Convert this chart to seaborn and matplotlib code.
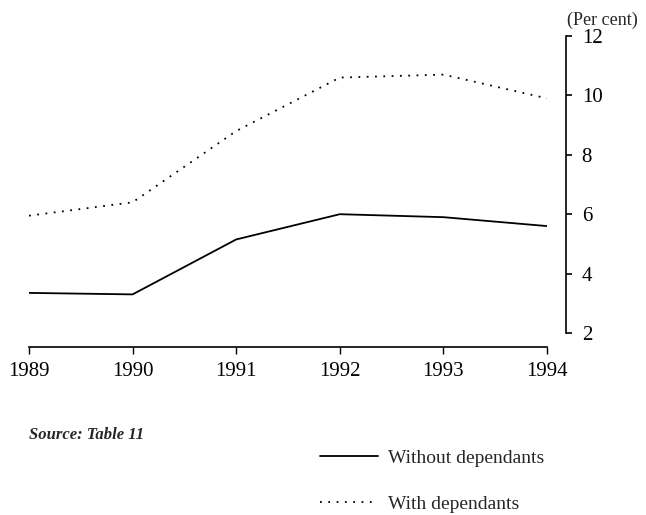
import matplotlib
matplotlib.use("Agg")
import matplotlib.pyplot as plt
import seaborn as sns
import pandas as pd

# data (per cent)
years = [1989, 1990, 1991, 1992, 1993, 1994]
without_dep = [3.35, 3.3, 5.15, 6.0, 5.9, 5.6]
with_dep = [5.95, 6.4, 8.8, 10.6, 10.7, 9.9]
series_names = ["Without dependants", "With dependants"]
y_ticks = [2, 4, 6, 8, 10, 12]

df = pd.DataFrame({
    "year": years * 2,
    "value": without_dep + with_dep,
    "series": [series_names[0]] * len(years) + [series_names[1]] * len(years),
})

sns.set_style("ticks")
plt.rcParams["font.family"] = ["Liberation Serif", "DejaVu Serif"]

fig = plt.figure(figsize=(6.46, 5.15), dpi=100)
ax = fig.add_axes([29 / 646, 1 - 333 / 515, (547 - 29) / 646, (333 - 36) / 515])

sns.lineplot(data=df, x="year", y="value", style="series",
             color="black", linewidth=1.3,
             dashes={series_names[0]: "", series_names[1]: (1, 3.6)},
             ax=ax, legend=True)

ax.set_xlim(years[0], years[-1])
ax.set_ylim(2, 12)
ax.set_xticks(years)
ax.set_yticks(y_ticks)
ax.set_xlabel("")
ax.set_ylabel("")

ax.yaxis.tick_right()
for s in ["left", "top"]:
    ax.spines[s].set_visible(False)
ax.spines["right"].set_position(("outward", 14))
ax.spines["bottom"].set_position(("outward", 10))
for s in ["right", "bottom"]:
    ax.spines[s].set_linewidth(1.2)
    ax.spines[s].set_color("black")

ax.tick_params(axis="x", direction="out", length=5, width=1, pad=6, labelsize=15, colors="black")
ax.tick_params(axis="y", direction="out", length=4, width=1.2, pad=7, labelsize=15, colors="black")

fig.text(567 / 646, 1 - 20 / 515, "(Per cent)", ha="left", va="center", fontsize=13)
fig.text(29 / 646, 1 - 435 / 515, "Source: Table 11", ha="left", va="center",
         fontsize=12, style="italic", fontweight="bold")

handles, labels = ax.get_legend_handles_labels()
ax.legend(handles, labels, loc="center left", bbox_to_anchor=(320 / 646, 1 - 481 / 515),
          bbox_transform=fig.transFigure, frameon=False, fontsize=14,
          handlelength=3.0, handletextpad=0.5, labelspacing=1.45,
          borderpad=0, borderaxespad=0)

fig.savefig("out.png", dpi=100)
